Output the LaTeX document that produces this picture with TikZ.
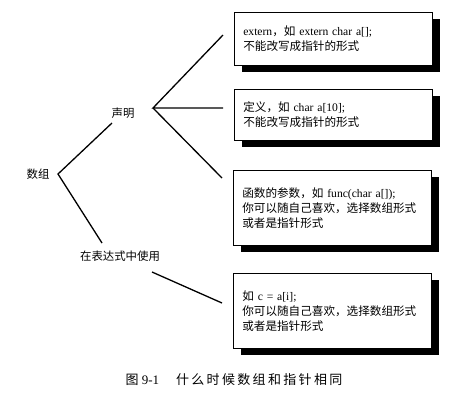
\documentclass[tikz,border=0pt]{standalone}
\usepackage{fontspec}
\setmainfont{Liberation Serif}
\newfontfamily\cjk{Noto Sans CJK SC}
\newfontfamily\cjkcap[LetterSpace=18]{Noto Sans CJK SC}
\usepackage{xcolor}
\usepackage{tikz}
\usetikzlibrary{positioning,shadows}

\begin{document}
\begin{tikzpicture}[
 x=1pt,y=-1pt,
 term/.style={font=\fontsize{11.4}{13}\selectfont,inner sep=2pt},
 casebox/.style={draw=black,line width=0.6pt,fill=white,anchor=north west,align=left,
   text width=180pt,inner xsep=9pt,inner ysep=4pt,
   font=\fontsize{11.6}{15}\selectfont,
   drop shadow={fill=black,opacity=1,shadow xshift=8pt,shadow yshift=-7pt}},
 branch/.style={line width=1.3pt},
]
\useasboundingbox (0,0) rectangle (461,400);

% tree labels
\node[term] (arr) at (38,174) {\cjk 数组};
\node[term] (decl) at (123,113) {\cjk 声明};
\node[term] (expr) at (120,256) {\cjk 在表达式中使用};

% boxes
\node[casebox,minimum height=53pt] (ext) at (234,12)
 {extern{\cjk ，如} extern char a[];\\{\cjk 不能改写成指针的形式}};
\node[casebox,minimum height=51pt] (def) at (234,89)
 {{\cjk 定义，如} char a[10];\\{\cjk 不能改写成指针的形式}};
\node[casebox,minimum height=75pt] (par) at (233,170)
 {{\cjk 函数的参数，如} func(char a[]);\\{\cjk 你可以随自己喜欢，选择数组形式}\\{\cjk 或者是指针形式}};
\node[casebox,minimum height=75pt] (use) at (233,273)
 {{\cjk 如} c = a[i];\\{\cjk 你可以随自己喜欢，选择数组形式}\\{\cjk 或者是指针形式}};

% branch points
\coordinate (arrv) at (58,174);
\coordinate (declin) at (112,123);
\coordinate (exprin) at (102,243);
\coordinate (declv) at (153,108);
\coordinate (exprv) at (152,272);
\coordinate (extin) at (223,35);
\coordinate (defin) at (223,108);
\coordinate (parin) at (222,178);
\coordinate (usein) at (222,303);

\draw[branch] (declin) -- (arrv) -- (exprin);
\draw[branch] (extin) -- (declv) -- (defin);
\draw[branch] (declv) -- (parin);
\draw[branch] (exprv) -- (usein);

% caption
\node[font=\fontsize{13}{15}\selectfont,inner sep=2pt] (cap) at (234,380)
 {{\cjk 图} 9-1\hspace{1.3em}{\cjkcap 什么时候数组和指针相同}};
\end{tikzpicture}
\end{document}
